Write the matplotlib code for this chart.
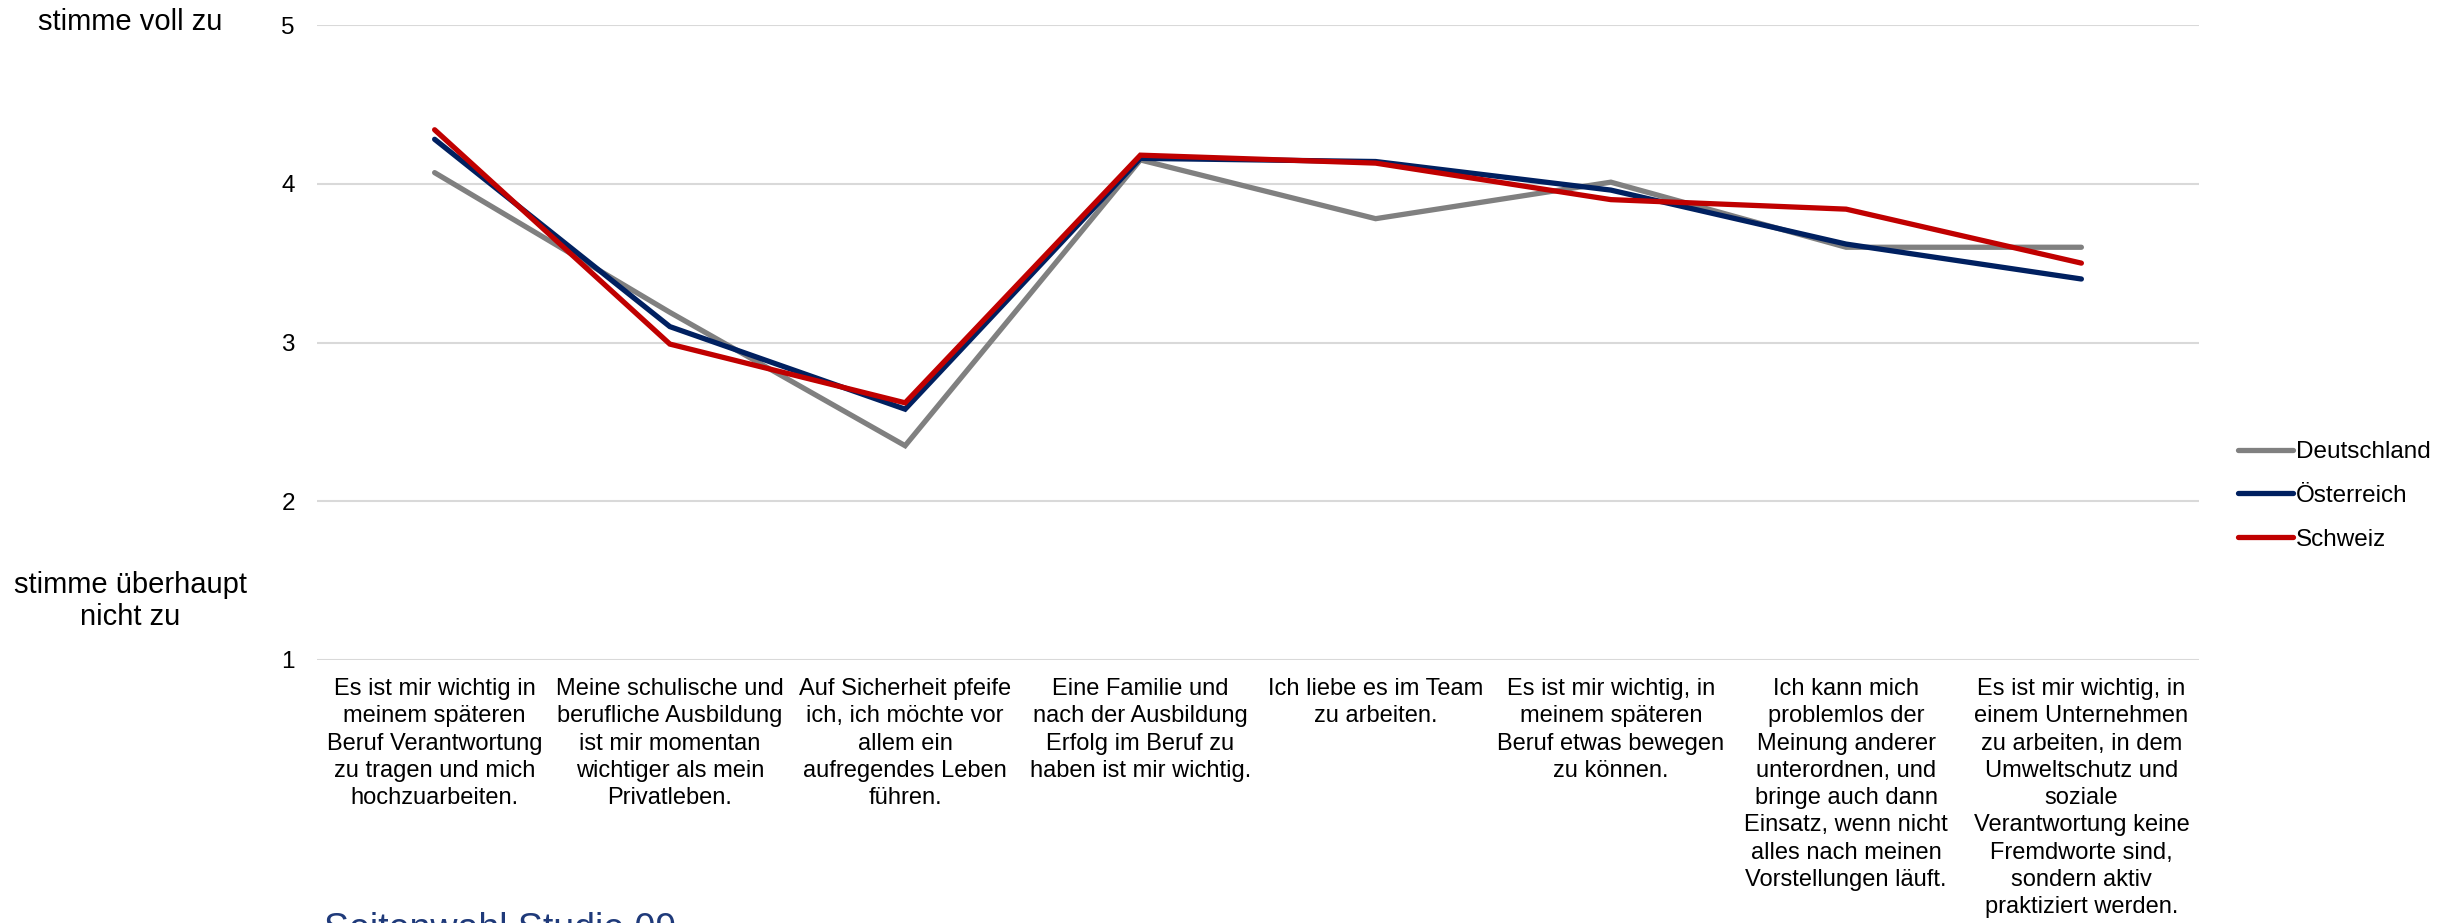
import matplotlib
matplotlib.use("Agg")
import matplotlib.pyplot as plt

plt.rcParams['font.family'] = ['Liberation Sans', 'DejaVu Sans']

categories = [
    "Es ist mir wichtig in\nmeinem späteren\nBeruf Verantwortung\nzu tragen und mich\nhochzuarbeiten.",
    "Meine schulische und\nberufliche Ausbildung\nist mir momentan\nwichtiger als mein\nPrivatleben.",
    "Auf Sicherheit pfeife\nich, ich möchte vor\nallem ein\naufregendes Leben\nführen.",
    "Eine Familie und\nnach der Ausbildung\nErfolg im Beruf zu\nhaben ist mir wichtig.",
    "Ich liebe es im Team\nzu arbeiten.",
    "Es ist mir wichtig, in\nmeinem späteren\nBeruf etwas bewegen\nzu können.",
    "Ich kann mich\nproblemlos der\nMeinung anderer\nunterordnen, und\nbringe auch dann\nEinsatz, wenn nicht\nalles nach meinen\nVorstellungen läuft.",
    "Es ist mir wichtig, in\neinem Unternehmen\nzu arbeiten, in dem\nUmweltschutz und\nsoziale\nVerantwortung keine\nFremdworte sind,\nsondern aktiv\npraktiziert werden.",
]

deutschland = [4.07, 3.19, 2.35, 4.15, 3.78, 4.01, 3.60, 3.60]
oesterreich = [4.28, 3.10, 2.58, 4.16, 4.14, 3.96, 3.62, 3.40]
schweiz = [4.34, 2.99, 2.62, 4.18, 4.13, 3.90, 3.84, 3.50]

y_ticks = [1, 2, 3, 4, 5]

W, H = 2458, 923
fig = plt.figure(figsize=(W / 100, H / 100), dpi=100)
ax = fig.add_axes([317 / W, 1 - 660 / H, (2199 - 317) / W, (660 - 25) / H])

x = list(range(len(categories)))
lw = 3.8
ax.plot(x, deutschland, color="#808080", lw=lw, solid_capstyle="round",
        solid_joinstyle="miter", label="Deutschland", zorder=3)
ax.plot(x, oesterreich, color="#002060", lw=lw, solid_capstyle="round",
        solid_joinstyle="miter", label="Österreich", zorder=4)
ax.plot(x, schweiz, color="#C00000", lw=lw, solid_capstyle="round",
        solid_joinstyle="miter", label="Schweiz", zorder=5)

ax.set_xlim(-0.5, len(categories) - 0.5)
ax.set_ylim(1, 5)
ax.set_yticks(y_ticks)
ax.set_xticks(x)
ax.set_xticklabels(categories, fontsize=17, linespacing=1.31, ha="center", va="top")
ax.tick_params(axis="x", length=0, pad=13)
ax.tick_params(axis="y", length=0, pad=16, labelsize=17.5)
ax.grid(axis="y", color="#D9D9D9", lw=1.5)
ax.set_axisbelow(True)
for s in ax.spines.values():
    s.set_visible(False)

# scale annotations left of the axis
fig.text(130 / W, 1 - 22 / H, "stimme voll zu", fontsize=21, ha="center", va="center")
fig.text(130 / W, 1 - 601 / H, "stimme überhaupt\nnicht zu", fontsize=21,
         ha="center", va="center", linespacing=1.2)

fig.legend(loc="center left", bbox_to_anchor=(2238 / W, 1 - 496 / H),
           frameon=False, fontsize=17.5, handlelength=2.25, handletextpad=0.12,
           labelspacing=0.9, borderpad=0, borderaxespad=0)

fig.text(324 / W, 1 - 940 / H, "Seitenwahl Studie 09", fontsize=27,
         color="#1F3A7A", ha="left", va="baseline")

fig.savefig("out.png", dpi=100)
